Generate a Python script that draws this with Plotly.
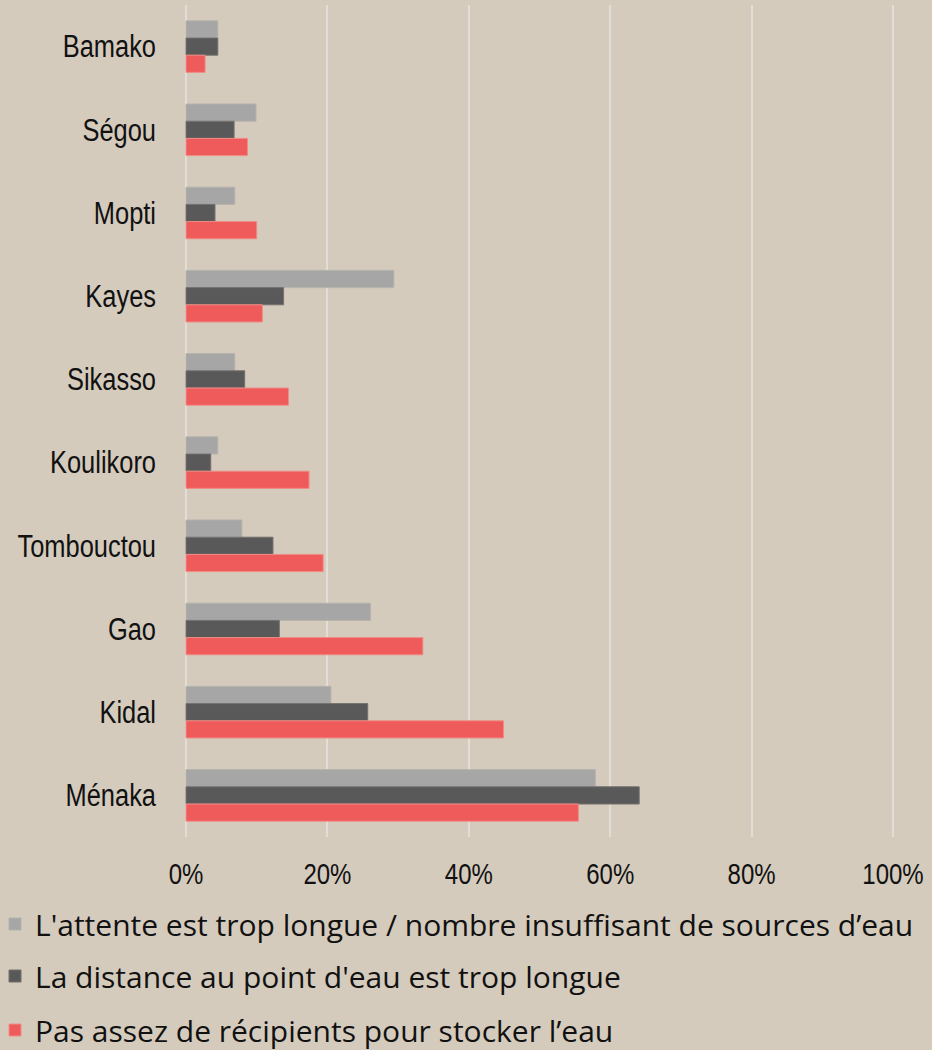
import plotly.graph_objects as go

regions = ["Bamako", "Ségou", "Mopti", "Kayes", "Sikasso", "Koulikoro",
           "Tombouctou", "Gao", "Kidal", "Ménaka"]

attente = [4.5, 9.9, 6.9, 29.4, 6.9, 4.5, 7.9, 26.1, 20.5, 57.9]
distance = [4.5, 6.8, 4.1, 13.8, 8.3, 3.5, 12.3, 13.2, 25.7, 64.1]
recipients = [2.7, 8.7, 10.0, 10.8, 14.5, 17.4, 19.4, 33.5, 44.9, 55.5]

series_names = [
    "L'attente est trop longue / nombre insuffisant de sources d\u2019eau",
    "La distance au point d'eau est trop longue",
    "Pas assez de récipients pour stocker l\u2019eau",
]
series_values = [attente, distance, recipients]
colors = ["#A6A6A6", "#595959", "#EF5A5A"]
edge = ["#B6B2AC", "#73716F", "#F08C86"]
legend_ids = ["legend", "legend2", "legend3"]
legend_rows = [924, 976, 1030]
tick_values = [0, 0.2, 0.4, 0.6, 0.8, 1.0]

BG = "#D4CBBD"
W, H = 932, 1050
fig = go.Figure()
for name, vals, c, e, lg in zip(series_names, series_values, colors, edge, legend_ids):
    fig.add_trace(go.Bar(
        y=regions, x=[v / 100 for v in vals], name=name, orientation="h",
        marker=dict(color=c, line=dict(color=e, width=1)),
        legend=lg,
    ))

# plot area: 0% at x=186, 100% at x=893 (small padding so edge gridlines show)
ml, mr, mt, mb = 184, 37, 5, 213
pw = W - ml - mr
ph = H - mt - mb
pad = (pw / 707 - 1) / 2

def py(ypix):
    return (H - mb - ypix) / ph

legend_font = dict(family="Open Sans, Noto Sans, sans-serif", size=30, color="#111111")
common = dict(x=(-5 - ml) / pw, xanchor="left", yanchor="middle",
              bgcolor="rgba(0,0,0,0)", font=legend_font, borderwidth=0)
legends = {lid: dict(y=py(row), **common) for lid, row in zip(legend_ids, legend_rows)}

narrow = "Liberation Sans, Arial, sans-serif"
fig.update_layout(
    width=W, height=H,
    margin=dict(l=ml, r=mr, t=mt, b=mb, pad=0, autoexpand=False),
    paper_bgcolor=BG, plot_bgcolor=BG,
    barmode="group", bargap=0.38, bargroupgap=0,
    showlegend=True,
    **legends,
    xaxis=dict(range=[-pad, 1 + pad], tickvals=tick_values, tickformat=".0%",
               showgrid=True, gridcolor="#E2DDD6", gridwidth=2, zeroline=False,
               showline=False, ticks="", ticklabelstandoff=16,
               tickfont=dict(family=narrow, size=30, color="#111111"),
               fixedrange=True),
    yaxis=dict(autorange="reversed", showgrid=False, zeroline=False, showline=False,
               ticks="", ticklabelstandoff=27,
               tickfont=dict(family=narrow, size=31, color="#111111"),
               fixedrange=True),
)

post = """
document.body.style.margin = '0px';
var gd = document.getElementById('{plot_id}');
function sq(sel, r){
  gd.querySelectorAll(sel).forEach(function(t){
    var w = t.getComputedTextLength();
    t.setAttribute('textLength', (w * r).toFixed(2));
    t.setAttribute('lengthAdjust', 'spacingAndGlyphs');
  });
}
sq('.xtick text', 0.8);
sq('.ytick text', 0.82);
"""
fig.write_html("out.html", post_script=post, config={"displayModeBar": False})
